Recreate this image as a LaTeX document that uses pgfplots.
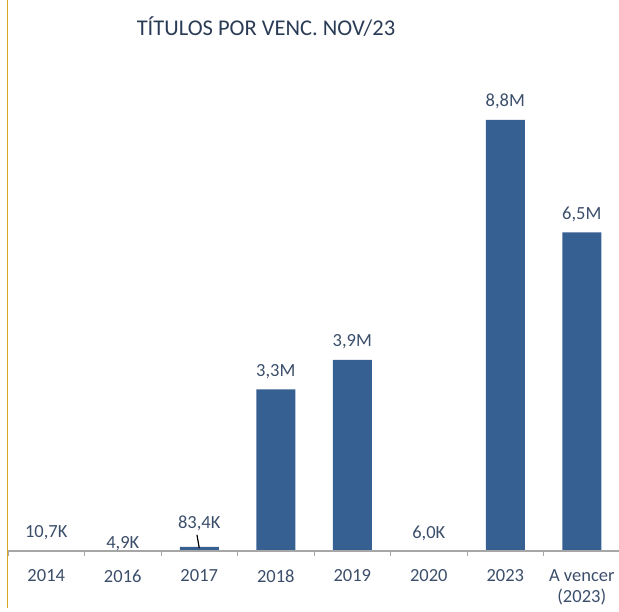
\documentclass[border=0pt]{standalone}
\usepackage{pgfplots}
\pgfplotsset{compat=1.18}
\usepackage{fontspec}
\setmainfont{Carlito}
\definecolor{barblue}{HTML}{366092}
\definecolor{txtblue}{HTML}{3B4E6A}
\definecolor{titleblue}{HTML}{2A3B55}
\definecolor{gold}{HTML}{D9A521}
\definecolor{basegray}{HTML}{A6A6A6}
\begin{document}
\begin{tikzpicture}[x=1pt,y=1pt]
\path[use as bounding box] (0,0) rectangle (619,611);
\draw[gold, line width=1.6pt] (7.5,3) -- (7.5,611);
\node[font=\fontsize{22.5}{27}\selectfont, text=titleblue] at (266,584) {TÍTULOS POR VENC. NOV/23};
\begin{axis}[
  at={(8pt,60pt)}, anchor=south west,
  scale only axis, width=612pt, height=490pt,
  xmin=-0.5, xmax=7.5, ymin=0, ymax=10,
  axis y line=none,
  axis x line*=bottom,
  axis on top,
  x axis line style={basegray, line width=1.3pt, -},
  xtick={0,1,2,3,4,5,6,7},
  xticklabels={2014,2016,2017,2018,2019,2020,2023,{A vencer\\(2023)}},
  major tick length=0pt,
  minor xtick={-0.5,0.5,1.5,2.5,3.5,4.5,5.5,6.5,7.5},
  minor tick length=5pt,
  tick align=outside,
  minor tick style={basegray, line width=1pt},
  xticklabel style={font=\fontsize{18.5}{21}\selectfont, text=txtblue, align=center, anchor=north, yshift=-15pt},
  clip=false,
]
\addplot[ybar, bar width=39pt, fill=barblue, draw=none] coordinates {
 (0,0.0107) (1,0.0049) (2,0.0834) (3,3.3) (4,3.9) (5,0.006) (6,8.8) (7,6.5)};
\addplot[only marks, mark=none, nodes near coords, point meta=explicit symbolic,
  nodes near coords style={anchor=center, font=\fontsize{18.5}{22}\selectfont, text=txtblue}]
  table[meta=lab] {
x y lab
0 0.367 10,7K
1 0.143 4,9K
2 0.571 83,4K
3 3.667 3,3M
4 4.267 3,9M
5 0.35 6,0K
6 9.167 8,8M
7 6.867 6,5M
};
\addplot[black, line width=1.2pt] coordinates {(1.97,0.33) (2.0,0.06)};
\end{axis}
\end{tikzpicture}
\end{document}
